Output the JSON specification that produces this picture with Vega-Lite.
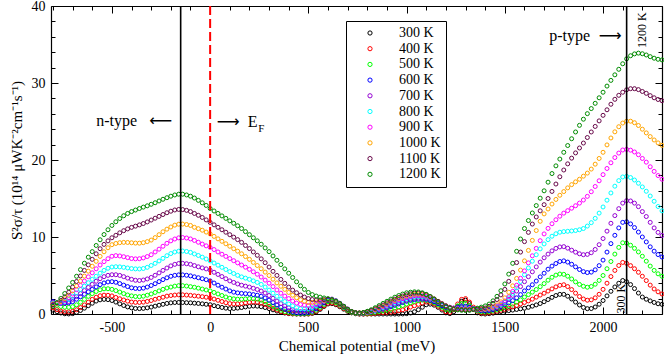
{
"$schema":"https://vega.github.io/schema/vega-lite/v6.json",
"width":611,"height":308,
"autosize":{"type":"none"},
"padding":{"left":51,"top":6,"right":2,"bottom":40},
"background":"white",
"config":{"view":{"stroke":null},"font":"Liberation Serif, Times New Roman, serif",
"axis":{"domainColor":"black","domainWidth":1.2,"tickColor":"black","tickWidth":1,"labelFont":"Liberation Serif, Times New Roman, serif","labelFontSize":14,"labelColor":"black","titleFont":"Liberation Serif, Times New Roman, serif","titleFontSize":15,"titleFontWeight":"normal","titleColor":"black","grid":false}},
"data":{"values":[
{"x":-800,"3":0.5,"4":0.8,"5":1.3,"6":1.6,"7":1.5,"8":1.4,"9":1.3,"10":1.3,"11":1.2,"12":1.0},
{"x":-780,"3":0.3,"4":0.56,"5":1.14,"6":1.44,"7":1.38,"8":1.36,"9":1.34,"10":1.38,"11":1.44,"12":1.48},
{"x":-760,"3":0.13,"4":0.38,"5":0.98,"6":1.37,"7":1.38,"8":1.44,"9":1.5,"10":1.61,"11":1.77,"12":2.02},
{"x":-740,"3":0.03,"4":0.28,"5":0.88,"6":1.37,"7":1.46,"8":1.62,"9":1.76,"10":1.97,"11":2.23,"12":2.66},
{"x":-720,"3":0.01,"4":0.27,"5":0.87,"6":1.44,"7":1.62,"8":1.9,"9":2.12,"10":2.44,"11":2.82,"12":3.38},
{"x":-700,"3":0.05,"4":0.35,"5":0.95,"6":1.6,"7":1.9,"8":2.3,"9":2.6,"10":3.0,"11":3.5,"12":4.1},
{"x":-680,"3":0.21,"4":0.55,"5":1.19,"6":1.92,"7":2.26,"8":2.74,"9":3.16,"10":3.64,"11":4.22,"12":4.9},
{"x":-660,"3":0.46,"4":0.84,"5":1.52,"6":2.24,"7":2.65,"8":3.18,"9":3.72,"10":4.28,"11":4.94,"12":5.76},
{"x":-640,"3":0.76,"4":1.18,"5":1.9,"6":2.56,"7":3.05,"8":3.62,"9":4.28,"10":4.92,"11":5.66,"12":6.6},
{"x":-620,"3":1.08,"4":1.54,"5":2.29,"6":2.88,"7":3.45,"8":4.06,"9":4.83,"10":5.56,"11":6.38,"12":7.38},
{"x":-600,"3":1.4,"4":1.9,"5":2.65,"6":3.2,"7":3.85,"8":4.5,"9":5.35,"10":6.2,"11":7.1,"12":8.1},
{"x":-580,"3":1.68,"4":2.18,"5":2.93,"6":3.52,"7":4.25,"8":4.9,"9":5.87,"10":6.84,"11":7.82,"12":8.9},
{"x":-560,"3":1.84,"4":2.37,"5":3.15,"6":3.81,"7":4.59,"8":5.3,"9":6.36,"10":7.48,"11":8.48,"12":9.64},
{"x":-540,"3":1.9,"4":2.45,"5":3.27,"6":4.03,"7":4.85,"8":5.66,"9":6.8,"10":8.08,"11":9.04,"12":10.32},
{"x":-520,"3":1.87,"4":2.43,"5":3.28,"6":4.16,"7":5.02,"8":5.94,"9":7.18,"10":8.6,"11":9.5,"12":10.94},
{"x":-500,"3":1.75,"4":2.35,"5":3.2,"6":4.2,"7":5.1,"8":6.1,"9":7.5,"10":9.0,"11":9.9,"12":11.5},
{"x":-480,"3":1.55,"4":2.15,"5":3.04,"6":4.12,"7":5.1,"8":6.14,"9":7.58,"10":9.16,"11":10.22,"12":11.98},
{"x":-460,"3":1.32,"4":1.98,"5":2.85,"6":3.95,"7":5.01,"8":6.12,"9":7.54,"10":9.26,"11":10.54,"12":12.4},
{"x":-440,"3":1.1,"4":1.82,"5":2.65,"6":3.75,"7":4.85,"8":6.06,"9":7.44,"10":9.3,"11":10.82,"12":12.76},
{"x":-420,"3":0.92,"4":1.67,"5":2.47,"6":3.56,"7":4.66,"8":5.98,"9":7.32,"10":9.29,"11":11.05,"12":13.06},
{"x":-400,"3":0.8,"4":1.55,"5":2.35,"6":3.4,"7":4.5,"8":5.9,"9":7.2,"10":9.25,"11":11.25,"12":13.3},
{"x":-380,"3":0.72,"4":1.51,"5":2.27,"6":3.32,"7":4.38,"8":5.86,"9":7.16,"10":9.21,"11":11.41,"12":13.5},
{"x":-360,"3":0.7,"4":1.5,"5":2.25,"6":3.3,"7":4.35,"8":5.85,"9":7.18,"10":9.2,"11":11.57,"12":13.7},
{"x":-340,"3":0.73,"4":1.54,"5":2.31,"6":3.36,"7":4.41,"8":5.91,"9":7.28,"10":9.26,"11":11.75,"12":13.88},
{"x":-320,"3":0.8,"4":1.63,"5":2.44,"6":3.5,"7":4.55,"8":6.06,"9":7.46,"10":9.4,"11":11.96,"12":14.05},
{"x":-300,"3":0.9,"4":1.75,"5":2.6,"6":3.7,"7":4.75,"8":6.3,"9":7.7,"10":9.6,"11":12.2,"12":14.25},
{"x":-280,"3":1.02,"4":1.91,"5":2.8,"6":3.94,"7":5.03,"8":6.58,"9":8.06,"10":9.92,"11":12.44,"12":14.45},
{"x":-260,"3":1.14,"4":2.04,"5":3.0,"6":4.21,"7":5.34,"8":6.89,"9":8.42,"10":10.3,"11":12.68,"12":14.68},
{"x":-240,"3":1.26,"4":2.18,"5":3.2,"6":4.47,"7":5.66,"8":7.23,"9":8.8,"10":10.68,"11":12.92,"12":14.9},
{"x":-220,"3":1.37,"4":2.32,"5":3.38,"6":4.7,"7":5.97,"8":7.57,"9":9.18,"10":11.02,"11":13.15,"12":15.1},
{"x":-200,"3":1.45,"4":2.4,"5":3.5,"6":4.9,"7":6.25,"8":7.85,"9":9.5,"10":11.3,"11":13.35,"12":15.3},
{"x":-180,"3":1.49,"4":2.46,"5":3.62,"6":5.02,"7":6.45,"8":8.05,"9":9.74,"10":11.54,"11":13.51,"12":15.46},
{"x":-160,"3":1.5,"4":2.49,"5":3.68,"6":5.08,"7":6.56,"8":8.16,"9":9.89,"10":11.66,"11":13.58,"12":15.56},
{"x":-140,"3":1.49,"4":2.49,"5":3.68,"6":5.08,"7":6.58,"8":8.18,"9":9.93,"10":11.68,"11":13.56,"12":15.56},
{"x":-120,"3":1.47,"4":2.46,"5":3.63,"6":5.03,"7":6.53,"8":8.12,"9":9.87,"10":11.62,"11":13.46,"12":15.46},
{"x":-100,"3":1.45,"4":2.42,"5":3.55,"6":4.95,"7":6.45,"8":8.0,"9":9.75,"10":11.5,"11":13.3,"12":15.3},
{"x":-80,"3":1.41,"4":2.36,"5":3.47,"6":4.83,"7":6.29,"8":7.8,"9":9.55,"10":11.26,"11":13.06,"12":15.06},
{"x":-60,"3":1.37,"4":2.31,"5":3.36,"6":4.71,"7":6.13,"8":7.6,"9":9.32,"10":11.08,"11":12.82,"12":14.76},
{"x":-40,"3":1.32,"4":2.25,"5":3.24,"6":4.59,"7":5.99,"8":7.38,"9":9.08,"10":10.88,"11":12.54,"12":14.44},
{"x":-20,"3":1.26,"4":2.18,"5":3.12,"6":4.46,"7":5.86,"8":7.14,"9":8.85,"10":10.64,"11":12.22,"12":14.1},
{"x":0,"3":1.2,"4":2.1,"5":3.0,"6":4.3,"7":5.7,"8":6.9,"9":8.65,"10":10.4,"11":11.9,"12":13.7},
{"x":20,"3":1.08,"4":1.94,"5":2.8,"6":4.02,"7":5.42,"8":6.62,"9":8.37,"10":10.08,"11":11.58,"12":13.38},
{"x":40,"3":0.96,"4":1.78,"5":2.6,"6":3.74,"7":5.14,"8":6.34,"9":8.06,"10":9.76,"11":11.26,"12":13.06},
{"x":60,"3":0.85,"4":1.62,"5":2.4,"6":3.48,"7":4.86,"8":6.06,"9":7.76,"10":9.44,"11":10.94,"12":12.74},
{"x":80,"3":0.76,"4":1.47,"5":2.21,"6":3.24,"7":4.58,"8":5.78,"9":7.48,"10":9.12,"11":10.62,"12":12.42},
{"x":100,"3":0.7,"4":1.35,"5":2.05,"6":3.0,"7":4.3,"8":5.5,"9":7.2,"10":8.8,"11":10.3,"12":12.1},
{"x":120,"3":0.72,"4":1.31,"5":1.97,"6":2.84,"7":4.1,"8":5.26,"9":6.92,"10":8.48,"11":9.98,"12":11.78},
{"x":140,"3":0.77,"4":1.31,"5":1.92,"6":2.74,"7":3.9,"8":5.02,"9":6.64,"10":8.16,"11":9.66,"12":11.46},
{"x":160,"3":0.84,"4":1.36,"5":1.92,"6":2.68,"7":3.74,"8":4.82,"9":6.36,"10":7.82,"11":9.3,"12":11.1},
{"x":180,"3":0.92,"4":1.44,"5":1.96,"6":2.64,"7":3.62,"8":4.66,"9":6.08,"10":7.46,"11":8.9,"12":10.7},
{"x":200,"3":1.0,"4":1.5,"5":2.0,"6":2.6,"7":3.5,"8":4.5,"9":5.8,"10":7.1,"11":8.5,"12":10.3},
{"x":220,"3":1.04,"4":1.54,"5":2.0,"6":2.52,"7":3.34,"8":4.3,"9":5.48,"10":6.7,"11":8.06,"12":9.9},
{"x":240,"3":1.02,"4":1.52,"5":1.94,"6":2.44,"7":3.18,"8":4.1,"9":5.16,"10":6.3,"11":7.62,"12":9.5},
{"x":260,"3":0.95,"4":1.42,"5":1.8,"6":2.3,"7":2.98,"8":3.84,"9":4.8,"10":5.88,"11":7.16,"12":9.06},
{"x":280,"3":0.84,"4":1.24,"5":1.58,"6":2.08,"7":2.72,"8":3.5,"9":4.4,"10":5.44,"11":6.66,"12":8.58},
{"x":300,"3":0.7,"4":1.0,"5":1.3,"6":1.8,"7":2.4,"8":3.1,"9":4.0,"10":5.0,"11":6.1,"12":8.1},
{"x":320,"3":0.54,"4":0.76,"5":1.02,"6":1.48,"7":2.04,"8":2.7,"9":3.56,"10":4.52,"11":5.54,"12":7.54},
{"x":340,"3":0.38,"4":0.52,"5":0.74,"6":1.16,"7":1.68,"8":2.3,"9":3.12,"10":4.04,"11":5.01,"12":6.98},
{"x":360,"3":0.24,"4":0.32,"5":0.5,"6":0.88,"7":1.34,"8":1.94,"9":2.7,"10":3.6,"11":4.49,"12":6.42},
{"x":380,"3":0.13,"4":0.18,"5":0.32,"6":0.64,"7":1.04,"8":1.62,"9":2.32,"10":3.2,"11":3.98,"12":5.86},
{"x":400,"3":0.05,"4":0.08,"5":0.2,"6":0.4,"7":0.8,"8":1.3,"9":2.0,"10":2.8,"11":3.5,"12":5.3},
{"x":420,"3":0.01,"4":0.03,"5":0.1,"6":0.26,"7":0.56,"8":1.06,"9":1.68,"10":2.44,"11":3.1,"12":4.74},
{"x":440,"3":0,"4":0.01,"5":0.04,"6":0.15,"7":0.38,"8":0.82,"9":1.42,"10":2.11,"11":2.76,"12":4.18},
{"x":460,"3":0,"4":0,"5":0.02,"6":0.1,"7":0.3,"8":0.68,"9":1.24,"10":1.85,"11":2.46,"12":3.66},
{"x":480,"3":0,"4":0,"5":0.03,"6":0.12,"7":0.32,"8":0.66,"9":1.14,"10":1.66,"11":2.2,"12":3.2},
{"x":500,"3":0,"4":0.02,"5":0.08,"6":0.2,"7":0.4,"8":0.7,"9":1.1,"10":1.5,"11":2.0,"12":2.8},
{"x":520,"3":0.08,"4":0.12,"5":0.22,"6":0.36,"7":0.56,"8":0.82,"9":1.18,"10":1.5,"11":1.88,"12":2.52},
{"x":540,"3":0.28,"4":0.36,"5":0.49,"6":0.67,"7":0.84,"8":1.06,"9":1.32,"10":1.56,"11":1.82,"12":2.33},
{"x":560,"3":0.6,"4":0.7,"5":0.85,"6":1.05,"7":1.2,"8":1.36,"9":1.5,"10":1.66,"11":1.82,"12":2.19},
{"x":580,"3":0.98,"4":1.08,"5":1.24,"6":1.44,"7":1.58,"8":1.66,"9":1.7,"10":1.78,"11":1.86,"12":2.08},
{"x":600,"3":1.3,"4":1.4,"5":1.6,"6":1.8,"7":1.9,"8":1.9,"9":1.9,"10":1.9,"11":1.9,"12":2.0},
{"x":620,"3":1.34,"4":1.44,"5":1.64,"6":1.84,"7":1.94,"8":1.86,"9":1.82,"10":1.82,"11":1.82,"12":1.88},
{"x":640,"3":1.2,"4":1.3,"5":1.47,"6":1.64,"7":1.74,"8":1.67,"9":1.62,"10":1.62,"11":1.62,"12":1.67},
{"x":660,"3":0.94,"4":1.04,"5":1.17,"6":1.3,"7":1.4,"8":1.35,"9":1.32,"10":1.32,"11":1.32,"12":1.37},
{"x":680,"3":0.63,"4":0.72,"5":0.81,"6":0.91,"7":1.01,"8":0.96,"9":0.96,"10":0.96,"11":0.96,"12":1.0},
{"x":700,"3":0.35,"4":0.4,"5":0.45,"6":0.55,"7":0.65,"8":0.6,"9":0.6,"10":0.6,"11":0.6,"12":0.6},
{"x":720,"3":0.15,"4":0.18,"5":0.21,"6":0.27,"7":0.33,"8":0.32,"9":0.32,"10":0.32,"11":0.32,"12":0.32},
{"x":740,"3":0.04,"4":0.06,"5":0.09,"6":0.13,"7":0.16,"8":0.16,"9":0.17,"10":0.17,"11":0.17,"12":0.16},
{"x":760,"3":0,"4":0.01,"5":0.05,"6":0.09,"7":0.11,"8":0.11,"9":0.13,"10":0.13,"11":0.13,"12":0.12},
{"x":780,"3":0,"4":0,"5":0.06,"6":0.12,"7":0.14,"8":0.14,"9":0.16,"10":0.18,"11":0.18,"12":0.19},
{"x":800,"3":0,"4":0.02,"5":0.1,"6":0.2,"7":0.22,"8":0.22,"9":0.25,"10":0.28,"11":0.3,"12":0.35},
{"x":820,"3":0,"4":0.04,"5":0.14,"6":0.28,"7":0.32,"8":0.32,"9":0.37,"10":0.42,"11":0.46,"12":0.55},
{"x":840,"3":0,"4":0.08,"5":0.21,"6":0.39,"7":0.44,"8":0.47,"9":0.53,"10":0.6,"11":0.68,"12":0.81},
{"x":860,"3":0,"4":0.12,"5":0.29,"6":0.51,"7":0.58,"8":0.64,"9":0.72,"10":0.82,"11":0.92,"12":1.09},
{"x":880,"3":0,"4":0.16,"5":0.38,"6":0.64,"7":0.74,"8":0.83,"9":0.93,"10":1.06,"11":1.17,"12":1.37},
{"x":900,"3":0,"4":0.2,"5":0.5,"6":0.8,"7":0.92,"8":1.05,"9":1.15,"10":1.3,"11":1.45,"12":1.65},
{"x":920,"3":0,"4":0.24,"5":0.62,"6":0.96,"7":1.1,"8":1.25,"9":1.39,"10":1.54,"11":1.69,"12":1.93},
{"x":940,"3":0,"4":0.31,"5":0.77,"6":1.12,"7":1.3,"8":1.45,"9":1.61,"10":1.78,"11":1.93,"12":2.18},
{"x":960,"3":0,"4":0.41,"5":0.93,"6":1.3,"7":1.49,"8":1.64,"9":1.81,"10":2.0,"11":2.15,"12":2.4},
{"x":980,"3":0.01,"4":0.54,"5":1.1,"6":1.49,"7":1.66,"8":1.82,"9":1.99,"10":2.19,"11":2.34,"12":2.59},
{"x":1000,"3":0.05,"4":0.7,"5":1.3,"6":1.65,"7":1.8,"8":1.98,"9":2.15,"10":2.35,"11":2.5,"12":2.75},
{"x":1020,"3":0.13,"4":0.9,"5":1.46,"6":1.77,"7":1.92,"8":2.12,"9":2.27,"10":2.47,"11":2.62,"12":2.83},
{"x":1040,"3":0.3,"4":1.07,"5":1.62,"6":1.86,"7":2.01,"8":2.21,"9":2.36,"10":2.56,"11":2.71,"12":2.88},
{"x":1060,"3":0.56,"4":1.25,"5":1.74,"6":1.92,"7":2.07,"8":2.26,"9":2.4,"10":2.6,"11":2.73,"12":2.86},
{"x":1080,"3":0.88,"4":1.43,"5":1.8,"6":1.94,"7":2.09,"8":2.26,"9":2.38,"10":2.57,"11":2.66,"12":2.75},
{"x":1100,"3":1.2,"4":1.55,"5":1.8,"6":1.9,"7":2.05,"8":2.2,"9":2.3,"10":2.45,"11":2.5,"12":2.55},
{"x":1120,"3":1.28,"4":1.51,"5":1.68,"6":1.78,"7":1.93,"8":2.04,"9":2.1,"10":2.21,"11":2.26,"12":2.27},
{"x":1140,"3":1.15,"4":1.32,"5":1.47,"6":1.6,"7":1.75,"8":1.82,"9":1.87,"10":1.94,"11":1.96,"12":1.93},
{"x":1160,"3":0.87,"4":1.02,"5":1.19,"6":1.36,"7":1.53,"8":1.56,"9":1.61,"10":1.64,"11":1.64,"12":1.57},
{"x":1180,"3":0.51,"4":0.66,"5":0.88,"6":1.09,"7":1.29,"8":1.29,"9":1.33,"10":1.33,"11":1.33,"12":1.23},
{"x":1200,"3":0.15,"4":0.3,"5":0.6,"6":0.85,"7":1.05,"8":1.05,"9":1.05,"10":1.05,"11":1.05,"12":0.95},
{"x":1220,"3":0.05,"4":0.2,"5":0.5,"6":0.73,"7":0.88,"8":0.85,"9":0.85,"10":0.84,"11":0.84,"12":0.75},
{"x":1240,"3":0.3,"4":0.55,"5":0.65,"6":0.72,"7":0.78,"8":0.74,"9":0.74,"10":0.7,"11":0.7,"12":0.6},
{"x":1260,"3":1.0,"4":1.3,"5":1.05,"6":0.85,"7":0.76,"8":0.7,"9":0.68,"10":0.63,"11":0.63,"12":0.53},
{"x":1280,"3":1.65,"4":1.9,"5":1.35,"6":0.98,"7":0.8,"8":0.7,"9":0.65,"10":0.6,"11":0.58,"12":0.48},
{"x":1300,"3":1.8,"4":2.0,"5":1.4,"6":1.0,"7":0.8,"8":0.7,"9":0.65,"10":0.6,"11":0.55,"12":0.45},
{"x":1320,"3":1.35,"4":1.55,"5":1.1,"6":0.88,"7":0.76,"8":0.69,"9":0.65,"10":0.6,"11":0.55,"12":0.48},
{"x":1340,"3":0.65,"4":0.9,"5":0.7,"6":0.7,"7":0.66,"8":0.64,"9":0.63,"10":0.6,"11":0.58,"12":0.62},
{"x":1360,"3":0.15,"4":0.35,"5":0.4,"6":0.52,"7":0.59,"8":0.61,"9":0.62,"10":0.61,"11":0.63,"12":0.76},
{"x":1380,"3":0.03,"4":0.13,"5":0.29,"6":0.44,"7":0.57,"8":0.6,"9":0.62,"10":0.63,"11":0.7,"12":0.89},
{"x":1400,"3":0,"4":0.1,"5":0.25,"6":0.4,"7":0.55,"8":0.6,"9":0.62,"10":0.65,"11":0.78,"12":1.05},
{"x":1420,"3":0.04,"4":0.14,"5":0.29,"6":0.44,"7":0.61,"8":0.66,"9":0.7,"10":0.75,"11":1.0,"12":1.29},
{"x":1440,"3":0.11,"4":0.24,"5":0.39,"6":0.54,"7":0.72,"8":0.78,"9":0.83,"10":0.91,"11":1.38,"12":1.71},
{"x":1460,"3":0.21,"4":0.36,"5":0.53,"6":0.72,"7":0.89,"8":0.97,"9":1.04,"10":1.18,"11":1.88,"12":2.29},
{"x":1480,"3":0.32,"4":0.48,"5":0.69,"6":0.96,"7":1.14,"8":1.24,"9":1.34,"10":1.58,"11":2.48,"12":3.02},
{"x":1500,"3":0.38,"4":0.6,"5":0.85,"6":1.2,"7":1.5,"8":1.6,"9":1.7,"10":2.1,"11":3.2,"12":3.9},
{"x":1520,"3":0.44,"4":0.76,"5":1.05,"6":1.44,"7":1.9,"8":2.08,"9":2.26,"10":2.82,"11":4.24,"12":5.18},
{"x":1540,"3":0.51,"4":0.92,"5":1.28,"6":1.74,"7":2.42,"8":2.68,"9":2.94,"10":3.66,"11":5.4,"12":6.58},
{"x":1560,"3":0.59,"4":1.1,"5":1.54,"6":2.1,"7":2.98,"8":3.4,"9":3.74,"10":4.62,"11":6.68,"12":8.14},
{"x":1580,"3":0.67,"4":1.3,"5":1.84,"6":2.52,"7":3.56,"8":4.22,"9":4.64,"10":5.7,"11":8.04,"12":9.74},
{"x":1600,"3":0.75,"4":1.5,"5":2.2,"6":3.0,"7":4.2,"8":5.1,"9":5.6,"10":6.9,"11":9.4,"12":11.1},
{"x":1620,"3":0.87,"4":1.7,"5":2.52,"6":3.4,"7":4.84,"8":5.98,"9":6.64,"10":8.26,"11":10.6,"12":12.14},
{"x":1640,"3":1.02,"4":1.93,"5":2.84,"6":3.8,"7":5.48,"8":6.86,"9":7.56,"10":9.56,"11":11.68,"12":13.12},
{"x":1660,"3":1.18,"4":2.19,"5":3.18,"6":4.28,"7":6.12,"8":7.7,"9":8.52,"10":10.84,"11":12.6,"12":14.08},
{"x":1680,"3":1.36,"4":2.46,"5":3.55,"6":4.82,"7":6.74,"8":8.46,"9":9.52,"10":12.04,"11":13.4,"12":15.04},
{"x":1700,"3":1.6,"4":2.7,"5":3.95,"6":5.3,"7":7.3,"8":9.1,"9":10.4,"10":13.0,"11":14.2,"12":16.0},
{"x":1720,"3":1.88,"4":2.98,"5":4.39,"6":5.82,"7":7.78,"8":9.66,"9":11.12,"10":13.64,"11":15.0,"12":17.12},
{"x":1740,"3":2.16,"4":3.26,"5":4.77,"6":6.22,"7":8.2,"8":10.1,"9":11.72,"10":14.28,"11":15.92,"12":18.24},
{"x":1760,"3":2.4,"4":3.52,"5":5.05,"6":6.56,"7":8.52,"8":10.42,"9":12.24,"10":14.88,"11":16.88,"12":19.24},
{"x":1780,"3":2.55,"4":3.72,"5":5.19,"6":6.82,"7":8.71,"8":10.62,"9":12.7,"10":15.42,"11":17.82,"12":20.12},
{"x":1800,"3":2.55,"4":3.8,"5":5.15,"6":6.9,"7":8.75,"8":10.7,"9":13.1,"10":15.9,"11":18.7,"12":21.0},
{"x":1820,"3":2.31,"4":3.56,"5":4.91,"6":6.74,"7":8.55,"8":10.74,"9":13.42,"10":16.38,"11":19.5,"12":21.88},
{"x":1840,"3":1.95,"4":3.17,"5":4.55,"6":6.46,"7":8.29,"8":10.78,"9":13.74,"10":16.8,"11":20.24,"12":22.76},
{"x":1860,"3":1.55,"4":2.71,"5":4.17,"6":6.12,"7":8.03,"8":10.84,"9":14.06,"10":17.16,"11":20.92,"12":23.64},
{"x":1880,"3":1.17,"4":2.27,"5":3.84,"6":5.78,"7":7.82,"8":10.94,"9":14.4,"10":17.5,"11":21.56,"12":24.5},
{"x":1900,"3":0.85,"4":1.95,"5":3.6,"6":5.5,"7":7.7,"8":11.1,"9":14.8,"10":17.9,"11":22.2,"12":25.3},
{"x":1920,"3":0.69,"4":1.79,"5":3.48,"6":5.38,"7":7.74,"8":11.42,"9":15.28,"10":18.3,"11":22.92,"12":26.02},
{"x":1940,"3":0.71,"4":1.84,"5":3.57,"6":5.44,"7":7.96,"8":11.86,"9":15.88,"10":18.82,"11":23.64,"12":26.68},
{"x":1960,"3":0.91,"4":2.1,"5":3.87,"6":5.74,"7":8.38,"8":12.42,"9":16.56,"10":19.46,"11":24.36,"12":27.36},
{"x":1980,"3":1.27,"4":2.56,"5":4.36,"6":6.28,"7":9.0,"8":13.1,"9":17.3,"10":20.2,"11":25.08,"12":28.08},
{"x":2000,"3":1.75,"4":3.2,"5":5.0,"6":7.0,"7":9.8,"8":13.9,"9":18.1,"10":21.0,"11":25.8,"12":28.8},
{"x":2020,"3":2.35,"4":4.0,"5":5.88,"6":8.04,"7":10.76,"8":14.78,"9":18.9,"10":21.96,"11":26.52,"12":29.6},
{"x":2040,"3":2.95,"4":4.86,"5":6.82,"6":9.14,"7":11.78,"8":15.72,"9":19.64,"10":22.86,"11":27.24,"12":30.34},
{"x":2060,"3":3.51,"4":5.66,"5":7.78,"6":10.22,"7":12.78,"8":16.6,"9":20.32,"10":23.66,"11":27.88,"12":31.06},
{"x":2080,"3":3.99,"4":6.3,"5":8.65,"6":11.18,"7":13.68,"8":17.32,"9":20.9,"10":24.32,"11":28.4,"12":31.78},
{"x":2100,"3":4.35,"4":6.7,"5":9.25,"6":11.9,"7":14.4,"8":17.8,"9":21.3,"10":24.8,"11":28.8,"12":32.5},
{"x":2120,"3":4.19,"4":6.58,"5":9.21,"6":11.98,"7":14.72,"8":17.88,"9":21.38,"10":25.04,"11":29.12,"12":33.14},
{"x":2140,"3":3.82,"4":6.28,"5":8.93,"6":11.7,"7":14.68,"8":17.72,"9":21.28,"10":25.04,"11":29.26,"12":33.54},
{"x":2160,"3":3.3,"4":5.88,"5":8.53,"6":11.22,"7":14.4,"8":17.4,"9":21.04,"10":24.84,"11":29.26,"12":33.78},
{"x":2180,"3":2.72,"4":5.42,"5":8.06,"6":10.64,"7":13.94,"8":16.98,"9":20.68,"10":24.48,"11":29.14,"12":33.88},
{"x":2200,"3":2.2,"4":4.9,"5":7.5,"6":10.0,"7":13.3,"8":16.5,"9":20.2,"10":24.0,"11":28.9,"12":33.8},
{"x":2220,"3":1.92,"4":4.34,"5":6.86,"6":9.36,"7":12.66,"8":15.94,"9":19.72,"10":23.52,"11":28.66,"12":33.64},
{"x":2240,"3":1.7,"4":3.75,"5":6.22,"6":8.72,"7":11.9,"8":15.32,"9":19.12,"10":23.04,"11":28.36,"12":33.42},
{"x":2260,"3":1.5,"4":3.25,"5":5.66,"6":8.16,"7":11.18,"8":14.64,"9":18.52,"10":22.6,"11":28.08,"12":33.22},
{"x":2280,"3":1.33,"4":2.88,"5":5.22,"6":7.72,"7":10.6,"8":13.96,"9":17.98,"10":22.22,"11":27.86,"12":33.08},
{"x":2300,"3":1.25,"4":2.6,"5":4.9,"6":7.4,"7":10.2,"8":13.4,"9":17.5,"10":21.9,"11":27.7,"12":33.0}
]},
"resolve":{"axis":{"x":"independent","y":"independent"}},
"layer":[
{"transform":[{"fold":["3","4","5","6","7","8","9","10","11","12"],"as":["T","v"]}],
 "mark":{"type":"point","shape":"circle","filled":false,"size":16,"strokeWidth":1,"opacity":1},
 "encoding":{
  "x":{"field":"x","type":"quantitative","scale":{"domain":[-810,2300],"nice":false,"zero":false},
       "axis":{"orient":"bottom","values":[-500,0,500,1000,1500,2000],"labelExpr":"'' + datum.value","ticks":false,"labelPadding":6,"title":"Chemical potential (meV)","titlePadding":4}},
  "y":{"field":"v","type":"quantitative","scale":{"domain":[0,40],"nice":false,"zero":true},
       "axis":{"orient":"left","values":[0,10,20,30,40],"ticks":false,"labelPadding":6,"title":"S²σ/τ (10¹⁴ μWK⁻²cm⁻¹s⁻¹)","titlePadding":7}},
  "color":{"field":"T","type":"nominal",
   "scale":{"domain":["3","4","5","6","7","8","9","10","11","12"],"range":["#000000","#ff0000","#00ff00","#0000ff","#9400d3","#00ffff","#ff00ff","#ffa500","#670748","#008b00"]},
   "legend":{"title":null,"orient":"none","legendX":295,"legendY":15,"labelExpr":"datum.label + '00 K'","strokeColor":"black","fillColor":"white","padding":5,"symbolType":"circle","symbolStrokeWidth":1,"symbolSize":18,"labelFontSize":14,"labelFont":"Liberation Serif, Times New Roman, serif","labelColor":"black","rowPadding":1.7,"symbolOffset":12,"labelOffset":22,"labelLimit":60,"cornerRadius":0}}
 }},
{"mark":{"type":"point","opacity":0},
 "encoding":{
  "x":{"field":"x","type":"quantitative","scale":{"domain":[-810,2300],"nice":false,"zero":false},
       "axis":{"orient":"bottom","values":[-500,0,500,1000,1500,2000],"labels":false,"domain":false,"offset":-7,"tickSize":7,"title":null}},
  "y":{"field":"12","type":"quantitative","scale":{"domain":[0,40],"nice":false},
       "axis":{"orient":"left","values":[0,10,20,30,40],"labels":false,"domain":false,"offset":-7,"tickSize":7,"title":null}}
 }},
{"mark":{"type":"point","opacity":0},
 "encoding":{
  "x":{"field":"x","type":"quantitative","scale":{"domain":[-810,2300],"nice":false,"zero":false},
       "axis":{"orient":"bottom","values":[-800,-700,-600,-400,-300,-200,-100,100,200,300,400,600,700,800,900,1100,1200,1300,1400,1600,1700,1800,1900,2100,2200,2300],"labels":false,"domain":false,"offset":-4,"tickSize":4,"title":null}},
  "y":{"field":"12","type":"quantitative","scale":{"domain":[0,40],"nice":false},
       "axis":{"orient":"left","values":[2,4,6,8,12,14,16,18,22,24,26,28,32,34,36,38],"labels":false,"domain":false,"offset":-4,"tickSize":4,"title":null}}
 }},
{"mark":{"type":"point","opacity":0},
 "encoding":{
  "x":{"field":"x","type":"quantitative","scale":{"domain":[-810,2300],"nice":false,"zero":false},
       "axis":{"orient":"top","values":[-500,0,500,1000,1500,2000],"labels":false,"domain":false,"offset":-7,"tickSize":7,"title":null}},
  "y":{"field":"12","type":"quantitative","scale":{"domain":[0,40],"nice":false},
       "axis":{"orient":"right","values":[0,10,20,30,40],"labels":false,"domain":false,"offset":-7,"tickSize":7,"title":null}}
 }},
{"mark":{"type":"point","opacity":0},
 "encoding":{
  "x":{"field":"x","type":"quantitative","scale":{"domain":[-810,2300],"nice":false,"zero":false},
       "axis":{"orient":"top","values":[-800,-700,-600,-400,-300,-200,-100,100,200,300,400,600,700,800,900,1100,1200,1300,1400,1600,1700,1800,1900,2100,2200,2300],"labels":false,"domain":false,"offset":-4,"tickSize":4,"title":null}},
  "y":{"field":"12","type":"quantitative","scale":{"domain":[0,40],"nice":false},
       "axis":{"orient":"right","values":[2,4,6,8,12,14,16,18,22,24,26,28,32,34,36,38],"labels":false,"domain":false,"offset":-4,"tickSize":4,"title":null}}
 }},
{"mark":{"type":"point","opacity":0},
 "encoding":{
  "x":{"field":"x","type":"quantitative","scale":{"domain":[-810,2300],"nice":false,"zero":false},
       "axis":{"orient":"top","labels":false,"ticks":false,"domain":true,"title":null}},
  "y":{"field":"12","type":"quantitative","scale":{"domain":[0,40],"nice":false},
       "axis":{"orient":"right","labels":false,"ticks":false,"domain":true,"title":null}}
 }},
{"data":{"values":[{"x":-150},{"x":2120}]},
 "mark":{"type":"rule","color":"black","strokeWidth":1.6},
 "encoding":{"x":{"field":"x","type":"quantitative","axis":null}}},
{"data":{"values":[{"x":0}]},
 "mark":{"type":"rule","color":"#ff0000","strokeWidth":2,"strokeDash":[9,4]},
 "encoding":{"x":{"field":"x","type":"quantitative","axis":null}}},
{"data":{"values":[{"x":-476,"y":24.4,"t":"n-type"},{"x":216,"y":24.3,"t":"E"},{"x":1830,"y":35.4,"t":"p-type"}]},
 "mark":{"type":"text","font":"Liberation Serif, Times New Roman, serif","fontSize":16,"align":"center","baseline":"alphabetic","color":"black"},
 "encoding":{"x":{"field":"x","type":"quantitative","axis":null},"y":{"field":"y","type":"quantitative","axis":null},"text":{"field":"t"}}},
{"data":{"values":[{"x":-252,"y":24.4,"t":"⟵"},{"x":92,"y":24.3,"t":"⟶"},{"x":2036,"y":35.4,"t":"⟶"}]},
 "mark":{"type":"text","font":"DejaVu Sans","fontSize":16,"align":"center","baseline":"alphabetic","color":"black"},
 "encoding":{"x":{"field":"x","type":"quantitative","axis":null},"y":{"field":"y","type":"quantitative","axis":null},"text":{"field":"t"}}},
{"data":{"values":[{"x":260,"y":23.6,"t":"F"}]},
 "mark":{"type":"text","font":"Liberation Serif, Times New Roman, serif","fontSize":11,"align":"center","baseline":"alphabetic","color":"black"},
 "encoding":{"x":{"field":"x","type":"quantitative","axis":null},"y":{"field":"y","type":"quantitative","axis":null},"text":{"field":"t"}}},
{"data":{"values":[{"x":2196,"y":36.85,"t":"1200 K"},{"x":2090,"y":2.0,"t":"300 K"}]},
 "mark":{"type":"text","font":"Liberation Serif, Times New Roman, serif","fontSize":12,"align":"center","baseline":"middle","angle":270,"color":"black"},
 "encoding":{"x":{"field":"x","type":"quantitative","axis":null},"y":{"field":"y","type":"quantitative","axis":null},"text":{"field":"t"}}}
]
}
